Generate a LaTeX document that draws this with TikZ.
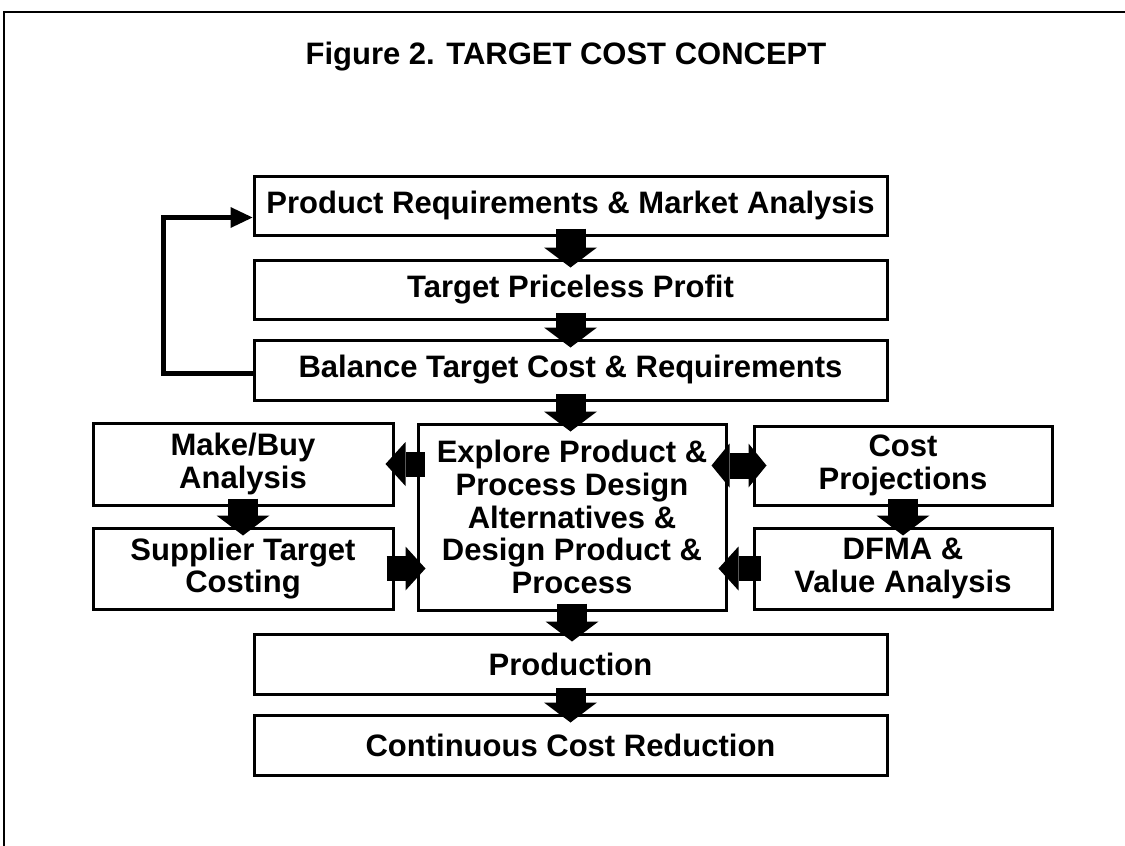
\documentclass[tikz,border=0pt]{standalone}
\usepackage{fontspec}
\setmainfont{Liberation Sans}
\usetikzlibrary{arrows.meta,calc}
\begin{document}
\begin{tikzpicture}[x=0.5pt,y=-0.5pt,
  box/.style={draw,line width=1.5pt,inner sep=0pt,align=center,
    font=\bfseries\fontsize{15.5}{16.3}\selectfont},
  wide/.style={box,minimum width=316.5pt,minimum height=30pt},
  side/.style={box,minimum width=150pt,minimum height=40.5pt},
  vflow/.style={line width=15pt,
    -{Triangle[width=26.5pt,length=10pt,line width=0pt]},
    shorten <=-4pt,shorten >=-4.5pt},
  hflow/.style={line width=12.5pt,
    -{Triangle[width=22pt,length=10pt,line width=0pt]},
    shorten <=-4pt,shorten >=-4.5pt},
  dflow/.style={line width=13pt,
    {Triangle[width=22pt,length=9pt,line width=0pt]}-{Triangle[width=22pt,length=9pt,line width=0pt]},
    shorten <=-8pt,shorten >=-7pt},
  loopline/.style={line width=2.5pt,
    -{Triangle[width=10.5pt,length=11pt,line width=0pt]}},
  frame/.style={line width=1.3pt}
]
\useasboundingbox (0,0) rectangle (1125,846);

% outer frame (top and left rules)
\coordinate (fl) at (4,846);
\coordinate (fc) at (4,12);
\coordinate (fr) at (1125,12);
\draw[frame] (fl) -- (fc) -- (fr);

% title
\node[font=\bfseries\fontsize{15.5}{18}\selectfont] (title) at (566,57)
  {Figure 2. TARGET COST CONCEPT};

% main column
\node[wide,minimum height=29.5pt] (b1) at (570.5,205.5) {Product Requirements \& Market Analysis};
\node[wide,minimum height=29.5pt] (b2) at (570.5,289.5) {Target Priceless Profit};
\node[wide] (b3) at (570.5,370) {Balance Target Cost \& Requirements};
\node[box,minimum width=154pt,minimum height=93pt] (expl) at (572,517)
  {Explore Product \&\\Process Design\\Alternatives \&\\Design Product \&\\Process};
\node[wide] (prod) at (570.5,664) {Production};
\node[wide] (cont) at (570.5,745) {Continuous Cost Reduction};

% left column
\node[side,minimum height=41pt] (make) at (243,464) {Make/Buy\\Analysis};
\node[side] (supp) at (243,568.5) {Supplier Target\\Costing};

% right column
\node[side,minimum width=149pt,minimum height=39.5pt] (cost) at (903,465.5) {Cost\\Projections};
\node[side,minimum width=149pt] (dfma) at (903,568.5) {DFMA \&\\Value Analysis};

% flow arrows
\draw[vflow] (b1.south) -- (b2.north);
\draw[vflow] (b2.south) -- (b3.north);
\draw[vflow] (b3.south) -- (b3.south |- expl.north);
\draw[vflow] (expl.south) -- (expl.south |- prod.north);
\draw[vflow] (prod.south) -- (cont.north);
\draw[vflow] (make.south) -- (supp.north);
\draw[vflow] (cost.south) -- (dfma.north);
\draw[hflow] (expl.west |- make.east) -- (make.east);
\draw[hflow] (supp.east) -- (supp.east -| expl.west);
\draw[hflow] (dfma.west) -- (dfma.west -| expl.east);
\draw[dflow] (expl.east |- cost.west) -- (cost.west);

% feedback loop from the balance step back to the requirements
\coordinate (fb) at ([yshift=-6pt]b1.west);
\draw[loopline] ([yshift=-1.5pt]b3.west) -- ++(-89,0) |- (fb);
\end{tikzpicture}
\end{document}
